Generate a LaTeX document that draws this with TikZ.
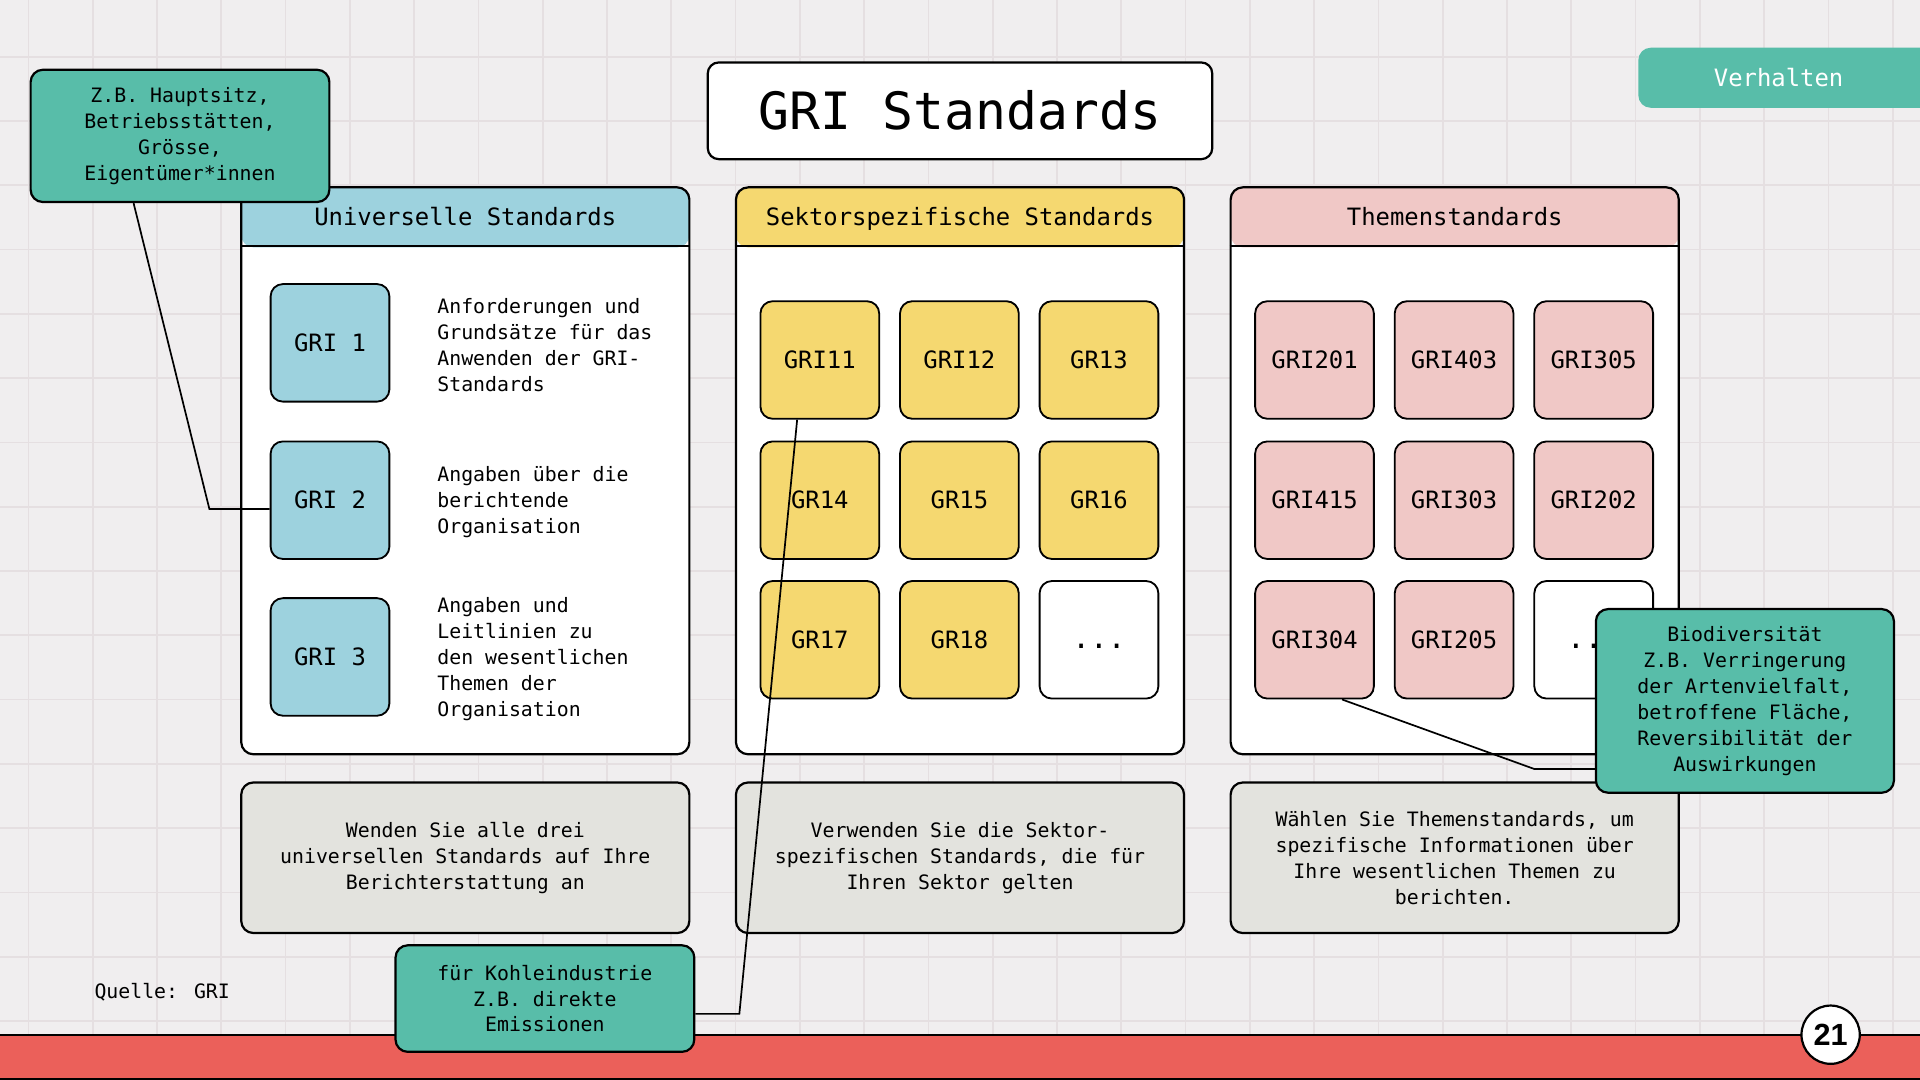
\documentclass[tikz,border=0pt]{standalone}
\usepackage{fontspec}
\newfontfamily\gmono{DejaVu Sans Mono}
\newfontfamily\gnum{Liberation Sans}
\definecolor{bgc}{RGB}{240,238,239}
\definecolor{gridc}{RGB}{229,223,225}
\definecolor{tealc}{RGB}{88,189,169}
\definecolor{bluec}{RGB}{157,210,222}
\definecolor{yelc}{RGB}{245,216,112}
\definecolor{pinkc}{RGB}{240,200,198}
\definecolor{grayc}{RGB}{227,227,222}
\definecolor{redc}{RGB}{235,96,90}
\begin{document}
\begin{tikzpicture}[x=1pt,y=-1pt,
  bodyfont/.style={font=\gmono\fontsize{16.2}{21.2}\selectfont},
  midfont/.style={font=\gmono\fontsize{19.5}{23}\selectfont},
  box/.style={draw=black, line width=1.8pt, rounded corners=10pt, inner sep=0pt},
  panel/.style={box, fill=white, minimum width=366pt, minimum height=463pt,
    path picture={\fill[#1] ([yshift=2pt]path picture bounding box.north west) rectangle ([yshift=-49pt]path picture bounding box.north east);}},
  hdrtxt/.style={midfont, inner sep=0pt, text height=14.2pt, text depth=0pt},
  sbox/.style={box, line width=1.5pt, fill=#1, minimum width=97pt, minimum height=96pt, midfont, text height=14.2pt, text depth=0pt},
  dotbox/.style={box, line width=1.5pt, fill=white, minimum width=97pt, minimum height=96pt, font=\gmono\fontsize{24}{24}\selectfont, text height=14.2pt, text depth=0pt},
  desc/.style={bodyfont, align=left, anchor=west, inner sep=0pt},
  graybox/.style={box, fill=grayc, minimum width=366pt, minimum height=123pt, bodyfont, align=center},
  callout/.style={box, fill=tealc, bodyfont, align=center},
  conn/.style={draw=black, line width=1.4pt},
]
\useasboundingbox (0,0) rectangle (1568,882);
\clip (0,0) rectangle (1568,882);
\fill[bgc] (0,0) rectangle (1568,882);
\foreach \i in {0,...,29} \draw[gridc, line width=1.4pt] ({23.2+52.5*\i},0) -- ({23.2+52.5*\i},882);
\foreach \j in {0,...,17} \draw[gridc, line width=1.4pt] (0,{-6.2+52.5*\j}) -- (1568,{-6.2+52.5*\j});

% title
\node[box, fill=white, rounded corners=9pt, minimum width=412pt, minimum height=79pt,
  font=\gmono\fontsize{42}{42}\selectfont] (title) at (784,90.5) {GRI Standards};

% Verhalten tab
\node[fill=tealc, rounded corners=10pt, minimum width=262pt, minimum height=49pt, inner sep=0pt] (vbox) at (1469,63.5) {};
\node[midfont, text=white, inner sep=0pt] (vtxt) at (1452.5,63.5) {Verhalten};

% panels
\node[panel=bluec] (p1) at (380,384.5) {};
\node[panel=yelc]  (p2) at (784,384.5) {};
\node[panel=pinkc] (p3) at (1188,384.5) {};
\foreach \p in {p1,p2,p3}
  \draw[line width=1.8pt] ([yshift=-49pt]\p.north west) -- ([yshift=-49pt]\p.north east);
\node[hdrtxt] (h1) at ([yshift=-25pt]p1.north) {Universelle Standards};
\node[hdrtxt] (h2) at ([yshift=-25pt]p2.north) {Sektorspezifische Standards};
\node[hdrtxt] (h3) at ([yshift=-25pt]p3.north) {Themenstandards};

% panel 1 content
\node[sbox=bluec] (g1) at (269.5,280) {GRI 1};
\node[sbox=bluec] (g2) at (269.5,408.5) {GRI 2};
\node[sbox=bluec] (g3) at (269.5,536.5) {GRI 3};
\node[desc] (t1) at (357,281.5) {Anforderungen und\\Grundsätze für das\\Anwenden der GRI-\\Standards};
\node[desc] (t2) at (357,410) {Angaben über die\\berichtende\\Organisation};
\node[desc] (t3) at (357,538) {Angaben und\\Leitlinien zu\\den wesentlichen\\Themen der\\Organisation};

% panel 2 content
\node[sbox=yelc] (g11) at (669.5,294) {GRI11};
\node[sbox=yelc] (g12) at (783.5,294) {GRI12};
\node[sbox=yelc] (g13) at (897.5,294) {GR13};
\node[sbox=yelc] (g14) at (669.5,408.5) {GR14};
\node[sbox=yelc] (g15) at (783.5,408.5) {GR15};
\node[sbox=yelc] (g16) at (897.5,408.5) {GR16};
\node[sbox=yelc] (g17) at (669.5,522.5) {GR17};
\node[sbox=yelc] (g18) at (783.5,522.5) {GR18};
\node[dotbox] (gdots2) at (897.5,522.5) {...};

% panel 3 content
\node[sbox=pinkc] (t201) at (1073.5,294) {GRI201};
\node[sbox=pinkc] (t403) at (1187.5,294) {GRI403};
\node[sbox=pinkc] (t305) at (1301.5,294) {GRI305};
\node[sbox=pinkc] (t415) at (1073.5,408.5) {GRI415};
\node[sbox=pinkc] (t303) at (1187.5,408.5) {GRI303};
\node[sbox=pinkc] (t202) at (1301.5,408.5) {GRI202};
\node[sbox=pinkc] (t304) at (1073.5,522.5) {GRI304};
\node[sbox=pinkc] (t205) at (1187.5,522.5) {GRI205};
\node[dotbox] (gdots3) at (1301.5,522.5) {...};

% gray boxes
\node[graybox] (b1) at (380,700.5) {Wenden Sie alle drei\\universellen Standards auf Ihre\\Berichterstattung an};
\node[graybox] (b2) at (784,700.5) {Verwenden Sie die Sektor-\\spezifischen Standards, die für\\Ihren Sektor gelten};
\node[graybox] (b3) at (1188,700.5) {Wählen Sie Themenstandards, um\\spezifische Informationen über\\Ihre wesentlichen Themen zu\\berichten.};

% source
\node[bodyfont, anchor=west, inner sep=0pt] (src) at (77,810) {Quelle: GRI};

% callouts
\node[callout, minimum width=244pt, minimum height=108pt] (c1) at (147,111) {Z.B. Hauptsitz,\\Betriebsstätten,\\Grösse,\\Eigentümer*innen};
\node[callout, minimum width=243.4pt, minimum height=150pt] (c3) at (1425,572.4) {Biodiversität\\Z.B. Verringerung\\der Artenvielfalt,\\betroffene Fläche,\\Reversibilität der\\Auswirkungen};

% connectors
\coordinate (e1) at (171,415.7);
\draw[conn] ([xshift=85pt]c1.south west) -- (e1) -- ([yshift=-7.2pt]g2.west);
\coordinate (e3) at (1253,628);
\draw[conn] ([xshift=22.5pt]t304.south) -- (e3) -- ([yshift=-55.6pt]c3.west);

% bottom bar
\draw[line width=1.8pt, fill=redc] (-10,845) rectangle (1580,881);

\node[callout, minimum width=244pt, minimum height=87pt] (c2) at (445,815.5) {für Kohleindustrie\\Z.B. direkte\\Emissionen};
\coordinate (e2) at (603.8,828);
\draw[conn] ([yshift=-12.5pt]c2.east) -- (e2) -- ([xshift=-18.5pt]g11.south);

\node[circle, draw=black, line width=1.8pt, fill=white, minimum size=47.6pt, inner sep=0pt,
  font=\gnum\bfseries\fontsize{25}{25}\selectfont] (pg) at (1495,845) {21};
\end{tikzpicture}
\end{document}
